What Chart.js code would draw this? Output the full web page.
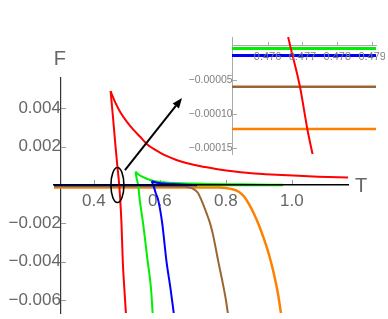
<!DOCTYPE html>
<html>
<head>
<meta charset="utf-8">
<script src="https://cdn.jsdelivr.net/npm/chart.js@4.4.1/dist/chart.umd.min.js"></script>
<style>
  html, body { margin: 0; padding: 0; background: #fff; }
  #wrap { position: relative; width: 388px; height: 319px; overflow: hidden; }
  #main { position: absolute; left: 0; top: 0; }
  #inset { position: absolute; left: 180px; top: 30px; }
</style>
</head>
<body>
<div id="wrap">
  <canvas id="main" width="388" height="319"></canvas>
  <canvas id="inset" width="205" height="130"></canvas>
</div>
<script>
(function () {
  "use strict";

  // ---- data: T on x, F on y ----
  var xMajor = [0.4, 0.6, 0.8, 1.0];
  var yMajor = [-0.006, -0.004, -0.002, 0.002, 0.004];
  var insetXMajor = [0.476, 0.477, 0.478, 0.479];
  var insetYMajor = [-0.00015, -0.0001, -0.00005];

  var redUpT = [0.4505, 0.465, 0.48, 0.50, 0.52, 0.54, 0.56, 0.58, 0.60, 0.62, 0.65, 0.68, 0.72, 0.77, 0.82, 0.87, 0.92, 0.97, 1.02, 1.08, 1.17];
  var redUpF = [0.00491, 0.0043, 0.0038, 0.0033, 0.00288, 0.00252, 0.00215, 0.0019, 0.0017, 0.00152, 0.00131, 0.00115, 0.00099, 0.00084, 0.00072, 0.00063, 0.00057, 0.00052, 0.00048, 0.00044, 0.0004];
  var redLowT = [0.4505, 0.458, 0.465, 0.471, 0.4767, 0.4805, 0.4835, 0.4875, 0.4925, 0.497];
  var redLowF = [0.00491, 0.0035, 0.0021, 0.001, 0, -0.001, -0.002, -0.004, -0.0055, -0.0067];

  var greenFlatT = [0.279, 0.4, 0.5, 0.6, 0.7, 0.8, 0.9, 0.973];
  var greenFlatF = [-0.0000037, -0.0000037, -0.0000037, -0.0000037, -0.0000037, -0.0000037, -0.0000037, -0.0000037];
  var greenMidT = [0.526, 0.535, 0.545, 0.555, 0.565, 0.575, 0.59, 0.61, 0.645, 0.70, 0.75, 0.85, 0.973];
  var greenMidF = [0.0007, 0.00055, 0.00045, 0.00037, 0.0003, 0.00024, 0.00019, 0.00015, 0.00011, 0.00008, 0.00006, 0.00004, 0.00001];
  var greenLowT = [0.526, 0.530, 0.534, 0.539, 0.549, 0.563, 0.573, 0.578];
  var greenLowF = [0.0007, 0.0003, 0, -0.0008, -0.002, -0.004, -0.0054, -0.0067];

  var blueFlatT = [0.279, 0.4, 0.5, 0.6, 0.712];
  var blueFlatF = [-0.000014, -0.000014, -0.000014, -0.000014, -0.000014];
  var blueMidT = [0.575, 0.59, 0.61, 0.64, 0.68, 0.712];
  var blueMidF = [0.0002, 0.00012, 0.00008, 0.00005, 0.00002, -0.000005];
  var blueLowT = [0.575, 0.58, 0.587, 0.595, 0.607, 0.620, 0.632, 0.642];
  var blueLowF = [0.0002, 0, -0.0004, -0.0008, -0.002, -0.004, -0.0054, -0.0067];

  var brownT = [0.279, 0.4, 0.5, 0.6, 0.65, 0.67, 0.685, 0.70, 0.715, 0.726, 0.742, 0.752, 0.761, 0.777, 0.789, 0.800, 0.806];
  var brownF = [-0.00006, -0.00006, -0.00006, -0.000062, -0.00007, -0.00008, -0.00011, -0.00019, -0.0004, -0.0008, -0.0015, -0.002, -0.0026, -0.004, -0.005, -0.006, -0.0067];

  var orangeT = [0.279, 0.4, 0.5, 0.6, 0.7, 0.78, 0.80, 0.82, 0.84, 0.855, 0.87, 0.885, 0.90, 0.915, 0.93, 0.945, 0.957, 0.967];
  var orangeF = [-0.000122, -0.000122, -0.000122, -0.000122, -0.000122, -0.000125, -0.00015, -0.00022, -0.00036, -0.0006, -0.001, -0.0015, -0.0021, -0.0028, -0.0036, -0.0046, -0.0056, -0.0067];

  // zoomed crossing shown in the inset
  var insetRedT = [0.47659, 0.47665, 0.47693, 0.47714, 0.47729];
  var insetRedF = [0.0000132, 0, -0.00006, -0.000122, -0.000159];

  var RED = "#ff0000", GREEN = "#00ee00", BLUE = "#0000ff", BROWN = "#996633", ORANGE = "#ff8000";
  var FONT = "'Liberation Sans', Arial, sans-serif";

  function pts(ts, fs) {
    return ts.map(function (t, i) { return { x: t, y: fs[i] }; });
  }

  function line(ts, fs, color, width, order) {
    return {
      data: pts(ts, fs),
      borderColor: color,
      backgroundColor: color,
      borderWidth: width,
      pointRadius: 0,
      showLine: true,
      fill: false,
      cubicInterpolationMode: "monotone",
      borderJoinStyle: "round",
      order: order
    };
  }

  function tickList(lo, hi, step, majors, skip) {
    var out = [];
    var n = Math.round((hi - lo) / step);
    for (var i = 0; i <= n; i++) {
      var v = +(lo + i * step).toFixed(9);
      if (skip !== undefined && Math.abs(v - skip) < step / 10) continue;
      var isMajor = majors.some(function (m) { return Math.abs(m - v) < step / 10; });
      out.push({ value: v, major: isMajor });
    }
    return out;
  }

  function minus(v, digits) {
    return (v < 0 ? "\u2212" : "") + Math.abs(v).toFixed(digits);
  }

  // axes cross inside the plot, so the label overhang must not shrink the area
  function noPad(s) {
    s.paddingLeft = s.paddingRight = s.paddingTop = s.paddingBottom = 0;
  }

  // ticks pointing into the plot, Mathematica style
  var innerTicks = {
    id: "innerTicks",
    beforeDatasetsDraw: function (chart, args, o) {
      var xs = chart.scales.x, ys = chart.scales.y, ctx = chart.ctx;
      var y0 = Math.round(ys.getPixelForValue(0));
      var x0 = Math.round(xs.getPixelForValue(o.xOrigin));
      ctx.save();
      ctx.strokeStyle = o.color;
      ctx.lineWidth = 1;
      ctx.beginPath();
      xs.ticks.forEach(function (t) {
        var p = Math.round(xs.getPixelForValue(t.value)) + 0.5;
        ctx.moveTo(p, y0);
        ctx.lineTo(p, y0 - (t.major ? o.major : o.minor));
      });
      ys.ticks.forEach(function (t) {
        var p = Math.round(ys.getPixelForValue(t.value)) + 0.5;
        ctx.moveTo(x0, p);
        ctx.lineTo(x0 + (t.major ? o.major : o.minor), p);
      });
      ctx.stroke();
      ctx.restore();
    }
  };

  // ellipse, arrow and the axis names on the main plot
  var marks = {
    id: "marks",
    afterDatasetsDraw: function (chart) {
      var xs = chart.scales.x, ys = chart.scales.y, ctx = chart.ctx;
      ctx.save();
      ctx.strokeStyle = "#000";
      ctx.fillStyle = "#000";
      ctx.lineWidth = 1.6;
      ctx.beginPath();
      ctx.ellipse(xs.getPixelForValue(0.4712), ys.getPixelForValue(0), 6.5, 17.5, 0, 0, Math.PI * 2);
      ctx.stroke();

      var x1 = xs.getPixelForValue(0.494), y1 = ys.getPixelForValue(0.00078);
      var x2 = xs.getPixelForValue(0.667), y2 = ys.getPixelForValue(0.00454);
      var a = Math.atan2(y2 - y1, x2 - x1), L = 10, W = 4;
      ctx.lineWidth = 2;
      ctx.beginPath();
      ctx.moveTo(x1, y1);
      ctx.lineTo(x2 - L * Math.cos(a), y2 - L * Math.sin(a));
      ctx.stroke();
      ctx.beginPath();
      ctx.moveTo(x2, y2);
      ctx.lineTo(x2 - L * Math.cos(a) + W * Math.sin(a), y2 - L * Math.sin(a) - W * Math.cos(a));
      ctx.lineTo(x2 - L * Math.cos(a) - W * Math.sin(a), y2 - L * Math.sin(a) + W * Math.cos(a));
      ctx.closePath();
      ctx.fill();
      ctx.restore();
    },
    afterDraw: function (chart) {
      var xs = chart.scales.x, ys = chart.scales.y, ctx = chart.ctx, area = chart.chartArea;
      ctx.save();
      ctx.fillStyle = "#666";
      ctx.font = "20px " + FONT;
      ctx.textBaseline = "alphabetic";
      ctx.textAlign = "center";
      ctx.fillText("F", xs.getPixelForValue(0.3) - 1, area.top - 13);
      ctx.textAlign = "left";
      ctx.fillText("T", area.right + 7, ys.getPixelForValue(0) + 7);
      ctx.restore();
    }
  };

  new Chart(document.getElementById("main"), {
    type: "scatter",
    data: {
      datasets: [
        line(redUpT, redUpF, RED, 2, 1),
        line(redLowT, redLowF, RED, 2, 1),
        line(blueFlatT, blueFlatF, BLUE, 2, 2),
        line(blueMidT, blueMidF, BLUE, 2, 2),
        line(blueLowT, blueLowF, BLUE, 2, 2),
        line(greenFlatT, greenFlatF, GREEN, 2, 3),
        line(greenMidT, greenMidF, GREEN, 2, 3),
        line(greenLowT, greenLowF, GREEN, 2, 3),
        line(brownT, brownF, BROWN, 2, 4),
        line(orangeT, orangeF, ORANGE, 2.5, 5)
      ]
    },
    options: {
      responsive: false,
      animation: false,
      devicePixelRatio: 1,
      events: [],
      layout: { padding: { left: 54, right: 40, top: 78, bottom: 6 } },
      plugins: {
        legend: { display: false },
        tooltip: { enabled: false },
        innerTicks: { xOrigin: 0.3, color: "#999", major: 5, minor: 3 }
      },
      scales: {
        x: {
          type: "linear",
          min: 0.279,
          max: 1.17,
          position: { y: 0 },
          grid: { display: false, drawTicks: false },
          border: { display: true, color: "#000", width: 1.6, z: 1 },
          ticks: {
            autoSkip: false, maxRotation: 0, minRotation: 0, padding: 6,
            color: "#666", font: { family: FONT, size: 17 },
            callback: function (v, i, ticks) { return ticks[i].major ? v.toFixed(1) : null; }
          },
          afterBuildTicks: function (s) { s.ticks = tickList(0.35, 1.15, 0.05, xMajor); },
          afterFit: noPad
        },
        y: {
          type: "linear",
          min: -0.00668,
          max: 0.00559,
          position: { x: 0.3 },
          grid: { display: false, drawTicks: false },
          border: { display: true, color: "#333", width: 1.2 },
          ticks: {
            autoSkip: false, padding: 4,
            color: "#666", font: { family: FONT, size: 17 },
            callback: function (v, i, ticks) { return ticks[i].major ? minus(v, 3) : null; }
          },
          afterBuildTicks: function (s) { s.ticks = tickList(-0.0065, 0.0055, 0.0005, yMajor, 0); },
          afterFit: noPad
        }
      }
    },
    plugins: [innerTicks, marks]
  });

  new Chart(document.getElementById("inset"), {
    type: "scatter",
    data: {
      datasets: [
        line(insetRedT, insetRedF, RED, 2, 1),
        line(greenFlatT, greenFlatF, GREEN, 3, 2),
        line(blueFlatT, blueFlatF, BLUE, 3, 3),
        line(brownT, brownF, BROWN, 2.5, 4),
        line(orangeT, orangeF, ORANGE, 2.5, 5)
      ]
    },
    options: {
      responsive: false,
      animation: false,
      devicePixelRatio: 1,
      events: [],
      layout: { padding: { left: 52, right: 9, top: 7, bottom: 6 } },
      plugins: {
        legend: { display: false },
        tooltip: { enabled: false },
        innerTicks: { xOrigin: 0.475, color: "#aaa", major: 4, minor: 2 }
      },
      scales: {
        x: {
          type: "linear",
          min: 0.47498,
          max: 0.47911,
          position: { y: 0 },
          grid: { display: false, drawTicks: false },
          border: { display: true, color: "#aaa", width: 1 },
          ticks: {
            autoSkip: false, maxRotation: 0, minRotation: 0, padding: 4, z: 1,
            color: "#808080", font: { family: FONT, size: 11 },
            callback: function (v, i, ticks) { return ticks[i].major ? v.toFixed(3) : null; }
          },
          afterBuildTicks: function (s) { s.ticks = tickList(0.4752, 0.479, 0.0002, insetXMajor); },
          afterFit: noPad
        },
        y: {
          type: "linear",
          min: -0.0001588,
          max: 0.0000132,
          position: { x: 0.475 },
          grid: { display: false, drawTicks: false },
          border: { display: true, color: "#aaa", width: 1 },
          ticks: {
            autoSkip: false, padding: 5,
            color: "#808080", font: { family: FONT, size: 10.5 },
            callback: function (v, i, ticks) { return ticks[i].major ? minus(v, 5) : null; }
          },
          afterBuildTicks: function (s) { s.ticks = tickList(-0.00015, 0.00001, 0.00001, insetYMajor, 0); },
          afterFit: noPad
        }
      }
    },
    plugins: [innerTicks]
  });
})();
</script>
</body>
</html>
